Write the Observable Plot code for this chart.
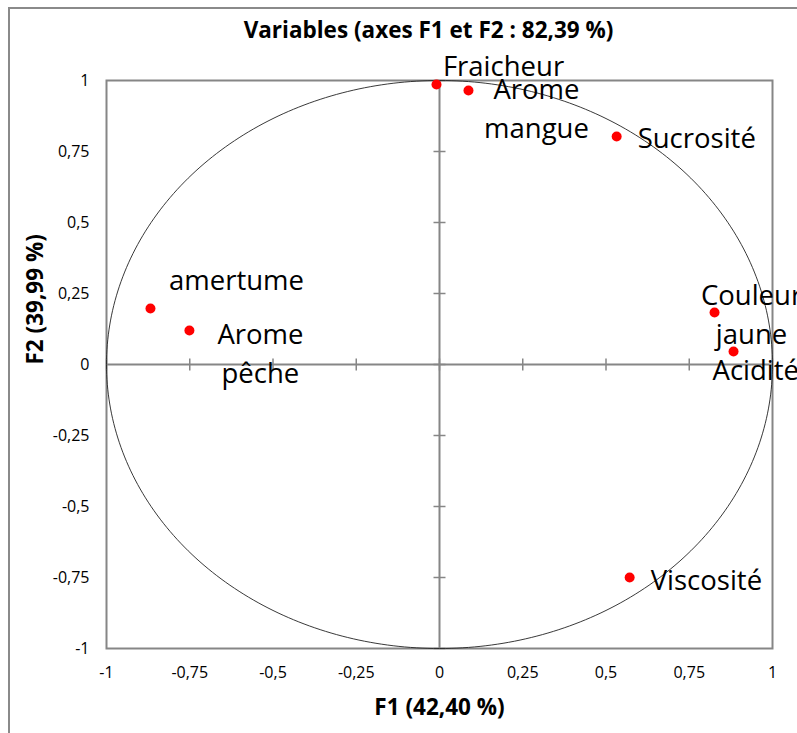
<!DOCTYPE html>
<html>
<head>
<meta charset="utf-8">
<script src="https://cdn.jsdelivr.net/npm/d3@7"></script>
<script src="https://cdn.jsdelivr.net/npm/@observablehq/plot@0.6"></script>
<style>
  html, body { margin: 0; padding: 0; background: #fff; overflow: hidden; }
  #wrap { position: relative; width: 797px; height: 733px; overflow: hidden; }
  #border { position: absolute; left: 8px; top: 7px; width: 900px; height: 900px;
            border: 2px solid #8a8a8a; pointer-events: none; z-index: 2; }
  #chart svg { display: block; }
</style>
</head>
<body>
<div id="wrap"><div id="chart"></div><div id="border"></div></div>
<script>
// ---- Data ----
const variableNames = ["Fraicheur", "Arome mangue", "Sucrosité", "Couleur jaune", "Acidité", "Viscosité", "amertume", "Arome pêche"];
const f1Values = [-0.009, 0.087, 0.532, 0.826, 0.883, 0.571, -0.868, -0.751];
const f2Values = [0.986, 0.965, 0.803, 0.183, 0.046, -0.750, 0.197, 0.120];
const tickValues = [-1, -0.75, -0.5, -0.25, 0, 0.25, 0.5, 0.75, 1];
const tickLabels = ["-1", "-0,75", "-0,5", "-0,25", "0", "0,25", "0,5", "0,75", "1"];
const titleText = "Variables (axes F1 et F2 : 82,39 %)";
const xTitle = "F1 (42,40 %)";
const yTitle = "F2 (39,99 %)";

// ---- Label layout (pixel offsets from each point) ----
const labelLayout = {
  "Fraicheur":     {text: "Fraicheur",      dx: 67,  dy: -21, anchor: "middle"},
  "Arome mangue":  {text: "Arome\nmangue",  dx: 68,  dy: 16,  anchor: "middle"},
  "Sucrosité":     {text: "Sucrosité",      dx: 21,  dy: -1,  anchor: "start"},
  "Couleur jaune": {text: "Couleur\njaune", dx: 37,  dy: -1,  anchor: "middle"},
  "Acidité":       {text: "Acidité",        dx: -21, dy: 16,  anchor: "start"},
  "Viscosité":     {text: "Viscosité",      dx: 21,  dy: 0,   anchor: "start"},
  "amertume":      {text: "amertume",       dx: 86,  dy: -31, anchor: "middle"},
  "Arome pêche":   {text: "Arome\npêche",   dx: 71,  dy: 21,  anchor: "middle"}
};

const points = variableNames.map((name, i) => ({name, x: f1Values[i], y: f2Values[i]}));
const tickFmt = d => tickLabels[tickValues.indexOf(d)] ?? String(d).replace(".", ",");

// unit correlation circle
const circle = d3.range(0, 361, 1).map(a => ({x: Math.cos(a * Math.PI / 180), y: Math.sin(a * Math.PI / 180)}));

const vbar = {draw(ctx) { ctx.moveTo(0, -6); ctx.lineTo(0, 6); }};
const hbar = {draw(ctx) { ctx.moveTo(-6, 0); ctx.lineTo(6, 0); }};

const FONT = "'Open Sans', 'DejaVu Sans', sans-serif";
const axisGray = "#868686";

const labelMarks = points.map(p => {
  const L = labelLayout[p.name];
  return Plot.text([p], {
    x: "x", y: "y", text: () => L.text, dx: L.dx, dy: L.dy,
    textAnchor: L.anchor, lineAnchor: "middle", lineHeight: 1.42,
    fontSize: 27.5, fill: "#000", fontFamily: FONT
  });
});

const chart = Plot.plot({
  width: 797,
  height: 733,
  marginLeft: 106,
  marginRight: 25,
  marginTop: 80,
  marginBottom: 85,
  style: {fontFamily: FONT, background: "transparent", overflow: "visible"},
  x: {domain: [-1, 1]},
  y: {domain: [-1, 1]},
  marks: [
    Plot.axisX({ticks: tickValues, tickFormat: tickFmt, tickSize: 0, tickPadding: 18, fontSize: 16, label: null, fill: "#000"}),
    Plot.axisY({ticks: tickValues, tickFormat: tickFmt, tickSize: 0, tickPadding: 17, fontSize: 16, label: null, fill: "#000"}),
    Plot.ruleX([0], {stroke: axisGray, strokeWidth: 2}),
    Plot.ruleY([0], {stroke: axisGray, strokeWidth: 2}),
    Plot.dot(tickValues, {x: d => d, y: () => 0, symbol: vbar, r: 4, fill: "none", stroke: axisGray, strokeWidth: 1.5}),
    Plot.dot(tickValues, {x: () => 0, y: d => d, symbol: hbar, r: 4, fill: "none", stroke: axisGray, strokeWidth: 1.5}),
    Plot.frame({stroke: axisGray, strokeWidth: 2}),
    Plot.line(circle, {x: "x", y: "y", stroke: "#222", strokeWidth: 0.9, curve: "linear"}),
    Plot.dot(points, {x: "x", y: "y", r: 5, fill: "#ff0000", stroke: "none"}),
    ...labelMarks,
    Plot.text([titleText], {frameAnchor: "top", dx: -11, dy: -50, text: d => d, fontSize: 22.5, fontWeight: "bold", fill: "#000", lineAnchor: "middle", fontFamily: FONT}),
    Plot.text([xTitle], {frameAnchor: "bottom", dy: 59, text: d => d, fontSize: 22.5, fontWeight: "bold", fill: "#000", lineAnchor: "middle", fontFamily: FONT}),
    Plot.text([yTitle], {frameAnchor: "left", dx: -71, rotate: -90, text: d => d, fontSize: 22.5, fontWeight: "bold", fill: "#000", lineAnchor: "middle", fontFamily: FONT})
  ]
});
document.getElementById("chart").appendChild(chart);
</script>
</body>
</html>
